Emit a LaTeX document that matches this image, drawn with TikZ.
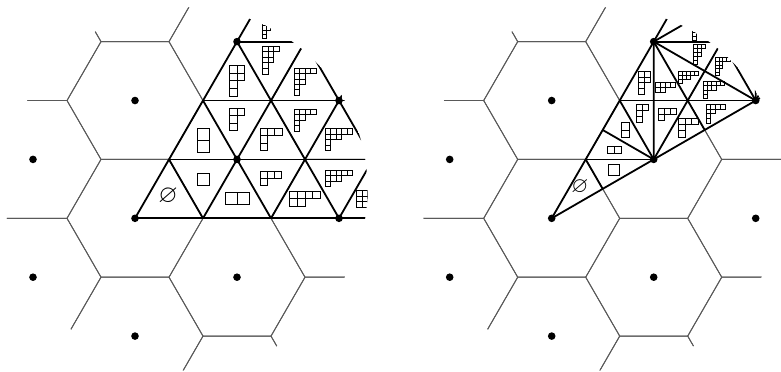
\documentclass[tikz,border=0pt]{standalone}
\usepackage{amssymb}
\tikzset{
  hexline/.style={line width=0.9bp, draw=black!65},
  wall/.style={line width=1.8bp, draw=black},
  ydcell/.style={line width=0.75bp, draw=black},
  lattice/.style={x={(68bp,0bp)}, y={(34bp,58.89bp)}},
}
\newcommand\hexgrid{%
  \foreach \i in {-7,...,8}{%
    \foreach \j in {-6,...,8}{%
      \pgfmathtruncatemacro\hm{mod(\i-\j+30,3)}%
      \ifnum\hm=0\relax
        \draw[hexline] (\i+1,\j) -- (\i,\j+1) -- (\i-1,\j+1) -- (\i-1,\j) -- (\i,\j-1) -- (\i+1,\j-1) -- cycle;
      \fi
    }%
  }%
}
\newcommand\hexdots{%
  \foreach \i in {-7,...,8}{%
    \foreach \j in {-6,...,8}{%
      \pgfmathtruncatemacro\hm{mod(\i-\j+30,3)}%
      \ifnum\hm=0\relax \fill (\i,\j) circle[radius=3.8bp];\fi
    }%
  }%
}
\newcommand\yd[6]{%
  \foreach \L [count=\r] in {#6}{%
    \foreach \c in {1,...,\L}{%
      \draw[ydcell] ({#1-#4*#3/2+(\c-1)*#3},{#2-#5*#3/2+(\r-1)*#3}) rectangle ++(#3,#3);%
    }%
  }%
}
\begin{document}
\begin{tikzpicture}[x=1bp,y=-1bp]
\useasboundingbox (0,0) rectangle (781,371);
% ---------------- left panel ----------------
\begin{scope}
  \clip (186,188.9) circle[radius=181.5bp];
  \begin{scope}[shift={(135,218.3)}, lattice]
    \hexgrid
    \foreach \k in {0,...,6} \draw[wall] (0,\k) -- (10,\k);
    \foreach \k in {0,...,8} \draw[wall] (\k,0) -- (\k,10);
    \foreach \k in {1,...,10} \draw[wall] (\k,0) -- (0,\k);
    \hexdots
  \end{scope}
  \node (emptyL) at (168,196) {\fontsize{25}{25}\selectfont$\varnothing$};
  \yd{203}{179}{12}{1}{1}{1}
  \yd{237}{198.5}{12}{2}{1}{2}
  \yd{203}{140}{12}{1}{2}{1,1}
  \yd{271}{178.5}{7.2}{3}{2}{3,1}
  \yd{237}{119.5}{7.5}{2}{3}{2,1,1}
  \yd{305}{198.8}{7.7}{4}{2}{4,2}
  \yd{271}{139.5}{7.3}{3}{3}{3,1,1}
  \yd{237}{80.8}{7.8}{2}{4}{2,2,1,1}
  \yd{305}{120}{5.5}{4}{4}{4,2,1,1}
  \yd{339}{178.3}{5.5}{5}{3}{5,3,1}
  \yd{339}{139.5}{5.5}{5}{4}{5,3,1,1}
  \yd{373}{198.8}{5.5}{6}{3}{6,4,2}
  \yd{270.7}{60}{5.6}{3}{5}{3,2,2,1,1}
  \yd{305.2}{81.7}{5.4}{4}{5}{4,2,2,1,1}
  \yd{268.6}{25.7}{4.2}{3}{6}{3,3,2,2,1,1}
\end{scope}
% ---------------- right panel ----------------
\begin{scope}
  \clip (602.7,188.9) circle[radius=181.5bp];
  \begin{scope}[shift={(551.7,218.3)}, lattice]
    \hexgrid
    \foreach \k in {1,...,7} \draw[wall] (0,\k) -- (\k,\k);
    \foreach \k in {0,...,6} \draw[wall] (\k,\k) -- (\k,10);
    \foreach \k in {1,...,12} \draw[wall] (0,\k) -- ({\k/2},{\k/2});
    \foreach \m in {1,...,3} \draw[wall] (\m,\m) -- (0,{3*\m});
    \draw[wall] (0,0) -- (9,9);
    \draw[wall] (0,3) -- (7,10);
    \foreach \m in {1,...,3} \draw[wall] (0,{1.5*\m}) -- (\m,\m);
    \hexdots
  \end{scope}
  \node (emptyR) at (580,187) {\fontsize{22}{22}\selectfont$\varnothing$};
  \yd{613.8}{169.7}{11}{1}{1}{1}
  \yd{614.7}{150}{7}{2}{1}{2}
  \yd{625.3}{130}{7.3}{1}{2}{1,1}
  \yd{642.2}{113.8}{6}{2}{3}{2,1,1}
  \yd{667.2}{114.2}{6.2}{3}{2}{3,1}
  \yd{688.3}{127.5}{6.4}{3}{3}{3,1,1}
  \yd{644.2}{82.8}{5.7}{2}{4}{2,2,1,1}
  \yd{665.3}{87}{5}{4}{2}{4,2}
  \yd{688.3}{77.2}{4.1}{5}{3}{5,3,1}
  \yd{713.8}{89.9}{4.3}{5}{4}{5,3,1,1}
  \yd{715.5}{113.8}{4.75}{4}{4}{4,2,1,1}
  \yd{699}{54.2}{4}{3}{5}{3,2,2,1,1}
  \yd{722.8}{66.7}{3.6}{4}{5}{4,2,2,1,1}
  \yd{698.1}{29.2}{3.6}{3}{6}{3,3,2,2,1,1}
\end{scope}
\end{tikzpicture}
\end{document}
